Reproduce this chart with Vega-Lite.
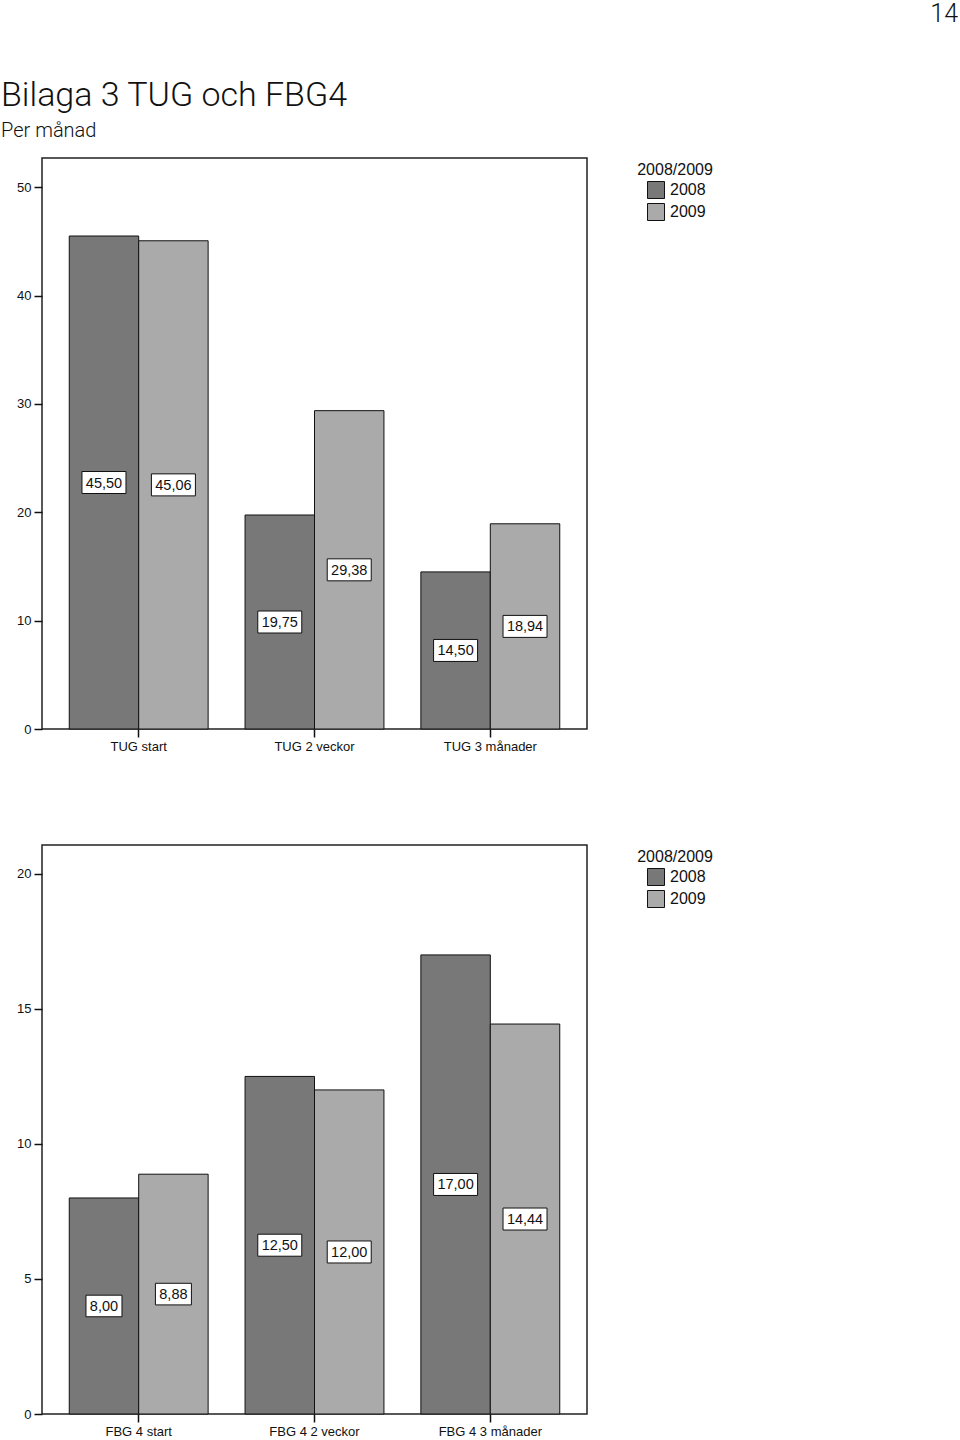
{
  "$schema": "https://vega.github.io/schema/vega-lite/v6.json",
  "padding": {"left": 0, "top": 2, "right": 0, "bottom": 0},
  "background": "white",
  "datasets": {
    "tug": [
      {"measure": "TUG start", "year": "2008", "value": 45.50},
      {"measure": "TUG start", "year": "2009", "value": 45.06},
      {"measure": "TUG 2 veckor", "year": "2008", "value": 19.75},
      {"measure": "TUG 2 veckor", "year": "2009", "value": 29.38},
      {"measure": "TUG 3 månader", "year": "2008", "value": 14.50},
      {"measure": "TUG 3 månader", "year": "2009", "value": 18.94}
    ],
    "fbg": [
      {"measure": "FBG 4 start", "year": "2008", "value": 8.00},
      {"measure": "FBG 4 start", "year": "2009", "value": 8.88},
      {"measure": "FBG 4 2 veckor", "year": "2008", "value": 12.50},
      {"measure": "FBG 4 2 veckor", "year": "2009", "value": 12.00},
      {"measure": "FBG 4 3 månader", "year": "2008", "value": 17.00},
      {"measure": "FBG 4 3 månader", "year": "2009", "value": 14.44}
    ]
  },
  "config": {
    "locale": {"number": {"decimal": ",", "thousands": " ", "grouping": [3], "currency": ["", " kr"]}},
    "view": {"stroke": "#222222", "strokeWidth": 1.5},
    "axis": {
      "domainColor": "#111111", "domainWidth": 1.5,
      "tickColor": "#111111", "tickWidth": 1.5, "tickSize": 8,
      "labelFont": "Liberation Sans", "labelFontSize": 13, "labelColor": "#111111",
      "grid": false, "title": null
    },
    "axisX": {"labelAngle": 0, "labelPadding": 3},
    "axisY": {"labelPadding": 3},
    "legend": {
      "orient": "right", "offset": 46, "padding": 4,
      "titleFont": "Liberation Sans", "titleFontSize": 16, "titleFontWeight": "normal", "titleColor": "#111111",
      "titleAnchor": "middle", "titlePadding": 3,
      "labelFont": "Liberation Sans", "labelFontSize": 16, "labelColor": "#111111", "labelOffset": 5,
      "symbolType": "square", "symbolSize": 289, "symbolStrokeColor": "#111111", "symbolStrokeWidth": 1,
      "symbolOffset": 2, "rowPadding": 0
    },
    "title": {"color": "#111111", "fontWeight": "normal"}
  },
  "spacing": 50,
  "vconcat": [
    {
      "width": 916,
      "height": 1,
      "data": {"values": []},
      "mark": {"type": "point", "opacity": 0},
      "encoding": {},
      "title": {"text": "14", "anchor": "end", "font": "Roboto", "fontSize": 25, "offset": 0, "color": "#111111", "fontWeight": 300}
    },
    {
      "spacing": 90,
      "resolve": {"scale": {"color": "independent"}, "legend": {"color": "independent"}},
      "vconcat": [
        {
          "width": 545,
          "height": 571,
          "title": {
            "text": "Bilaga 3 TUG och FBG4",
            "subtitle": "Per månad",
            "anchor": "start",
            "frame": "group",
            "dx": -41,
            "font": "Roboto",
            "fontSize": 34,
            "fontWeight": 300,
            "subtitleFont": "Roboto",
            "subtitleFontSize": 20,
            "subtitleFontWeight": 300,
            "subtitleColor": "#111111",
            "subtitlePadding": 8,
            "offset": 17
          },
          "data": {"name": "tug"},
          "encoding": {
            "x": {"field": "measure", "type": "nominal", "sort": null,
                  "scale": {"paddingInner": 0.21, "paddingOuter": 0.155},
                  "axis": {"domain": false}},
            "xOffset": {"field": "year", "type": "nominal", "scale": {"padding": 0}}
          },
          "layer": [
            {
              "mark": {"type": "bar", "stroke": "#111111", "strokeWidth": 1},
              "encoding": {
                "y": {"field": "value", "type": "quantitative",
                      "scale": {"domain": [0, 52.7], "nice": false, "zero": true},
                      "axis": {"values": [0, 10, 20, 30, 40, 50], "domain": false}},
                "color": {"field": "year", "type": "nominal", "title": "2008/2009",
                          "scale": {"domain": ["2008", "2009"], "range": ["#787878", "#aaaaaa"]}}
              }
            },
            {
              "transform": [{"calculate": "datum.value / 2", "as": "mid"}],
              "mark": {"type": "point", "shape": "M-1,-0.5H1V0.5H-1Z", "size": 1936,
                       "fill": "white", "fillOpacity": 1, "stroke": "#111111", "strokeWidth": 1, "opacity": 1},
              "encoding": {"y": {"field": "mid", "type": "quantitative"}}
            },
            {
              "transform": [{"calculate": "datum.value / 2", "as": "mid"}],
              "mark": {"type": "text", "font": "Liberation Sans", "fontSize": 14.5, "color": "#111111",
                       "align": "center", "baseline": "middle", "dy": 1},
              "encoding": {
                "y": {"field": "mid", "type": "quantitative"},
                "text": {"field": "value", "type": "quantitative", "format": ".2f"}
              }
            }
          ]
        },
        {
          "width": 545,
          "height": 569,
          "data": {"name": "fbg"},
          "encoding": {
            "x": {"field": "measure", "type": "nominal", "sort": null,
                  "scale": {"paddingInner": 0.21, "paddingOuter": 0.155},
                  "axis": {"domain": false}},
            "xOffset": {"field": "year", "type": "nominal", "scale": {"padding": 0}}
          },
          "layer": [
            {
              "mark": {"type": "bar", "stroke": "#111111", "strokeWidth": 1},
              "encoding": {
                "y": {"field": "value", "type": "quantitative",
                      "scale": {"domain": [0, 21.07], "nice": false, "zero": true},
                      "axis": {"values": [0, 5, 10, 15, 20], "domain": false}},
                "color": {"field": "year", "type": "nominal", "title": "2008/2009",
                          "scale": {"domain": ["2008", "2009"], "range": ["#787878", "#aaaaaa"]}}
              }
            },
            {
              "transform": [{"calculate": "datum.value / 2", "as": "mid"}, {"filter": "datum.value >= 10"}],
              "mark": {"type": "point", "shape": "M-1,-0.5H1V0.5H-1Z", "size": 1936,
                       "fill": "white", "fillOpacity": 1, "stroke": "#111111", "strokeWidth": 1, "opacity": 1},
              "encoding": {"y": {"field": "mid", "type": "quantitative"}}
            },
            {
              "transform": [{"calculate": "datum.value / 2", "as": "mid"}, {"filter": "datum.value < 10"}],
              "mark": {"type": "point", "shape": "M-1,-0.6H1V0.6H-1Z", "size": 1296,
                       "fill": "white", "fillOpacity": 1, "stroke": "#111111", "strokeWidth": 1, "opacity": 1},
              "encoding": {"y": {"field": "mid", "type": "quantitative"}}
            },
            {
              "transform": [{"calculate": "datum.value / 2", "as": "mid"}],
              "mark": {"type": "text", "font": "Liberation Sans", "fontSize": 14.5, "color": "#111111",
                       "align": "center", "baseline": "middle", "dy": 1},
              "encoding": {
                "y": {"field": "mid", "type": "quantitative"},
                "text": {"field": "value", "type": "quantitative", "format": ".2f"}
              }
            }
          ]
        }
      ]
    }
  ]
}
